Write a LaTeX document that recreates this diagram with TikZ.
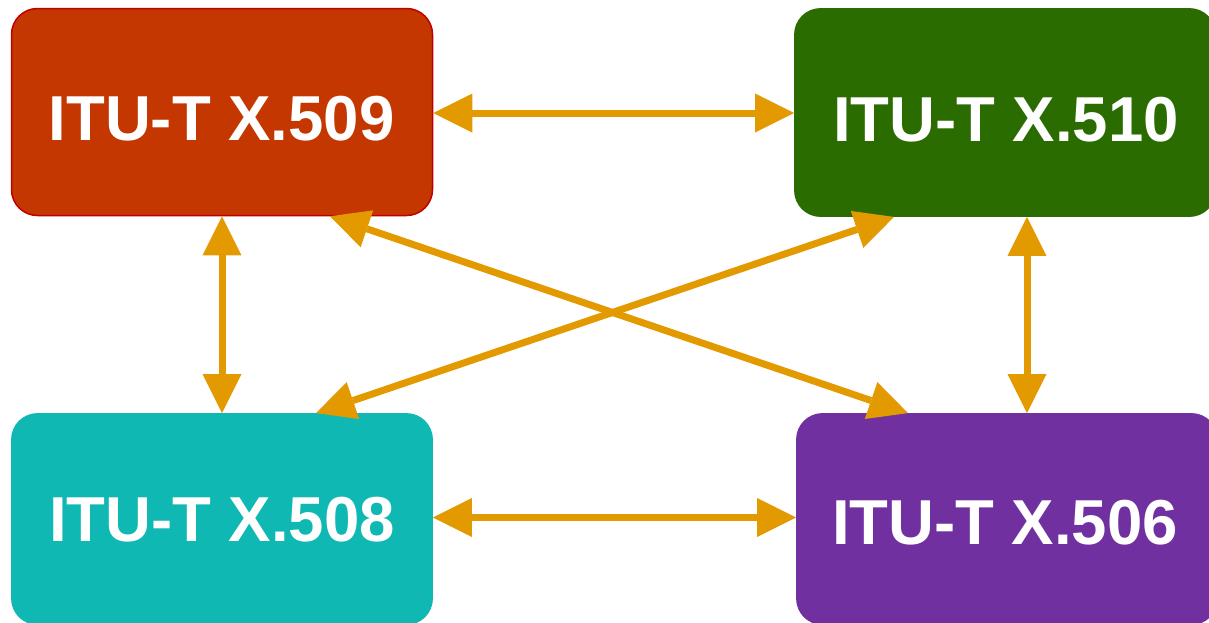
\documentclass[tikz,border=0pt]{standalone}
\usepackage{fontspec}
\setmainfont{Liberation Sans}
\usetikzlibrary{arrows.meta,calc}
\definecolor{cRed}{HTML}{C43700}
\definecolor{cRedB}{HTML}{C00000}
\definecolor{cGreen}{HTML}{2B6C00}
\definecolor{cTeal}{HTML}{10B8B4}
\definecolor{cPurple}{HTML}{7030A0}
\definecolor{cOrange}{HTML}{E39A00}
\tikzset{
  stdbox/.style={rectangle, rounded corners=26pt, inner sep=0pt, minimum width=421pt, line width=0.8pt},
  stdlabel/.style={text=white, font=\fontsize{63.5}{68}\selectfont\bfseries, inner sep=0pt},
  link/.style={draw=cOrange, line width=7pt, {Triangle[length=39pt,width=39pt,line width=0pt]}-{Triangle[length=39pt,width=39pt,line width=0pt]}}
}
\begin{document}
\begin{tikzpicture}[x=1pt,y=-1pt]
\useasboundingbox (0,0) rectangle (1209,622);
\node[stdbox, fill=cRed, draw=cRedB, line width=1.5pt, minimum height=207pt] (b509) at (222,112) {};
\node[stdbox, fill=cGreen, draw=cGreen, minimum height=208pt] (b510) at (1005,112.5) {};
\node[stdbox, fill=cTeal, draw=cTeal, minimum height=211pt] (b508) at (222,519) {};
\node[stdbox, fill=cPurple, draw=cPurple, minimum height=211pt] (b506) at (1007,519) {};
\node[stdlabel] (t509) at (221.5,118.5) {ITU-T X.509};
\node[stdlabel] (t510) at (1006,120) {ITU-T X.510};
\node[stdlabel] (t508) at (222,520) {ITU-T X.508};
\node[stdlabel] (t506) at (1005,523) {ITU-T X.506};
\draw[link] ($(b509.east)+(0,1)$) -- ($(b510.west)+(0,0.5)$);
\draw[link] ($(b508.east)+(0,-1.5)$) -- ($(b506.west)+(0,-1.5)$);
\draw[link] (b509.south) -- (b508.north);
\draw[link] ($(b510.south)+(22,0)$) -- ($(b506.north)+(20,0)$);
\draw[link] ($(b509.south)+(108,0)$) -- ($(b506.north)+(-99,0)$);
\draw[link] ($(b510.south)+(-111,0)$) -- ($(b508.north)+(94,0)$);
\end{tikzpicture}
\end{document}
